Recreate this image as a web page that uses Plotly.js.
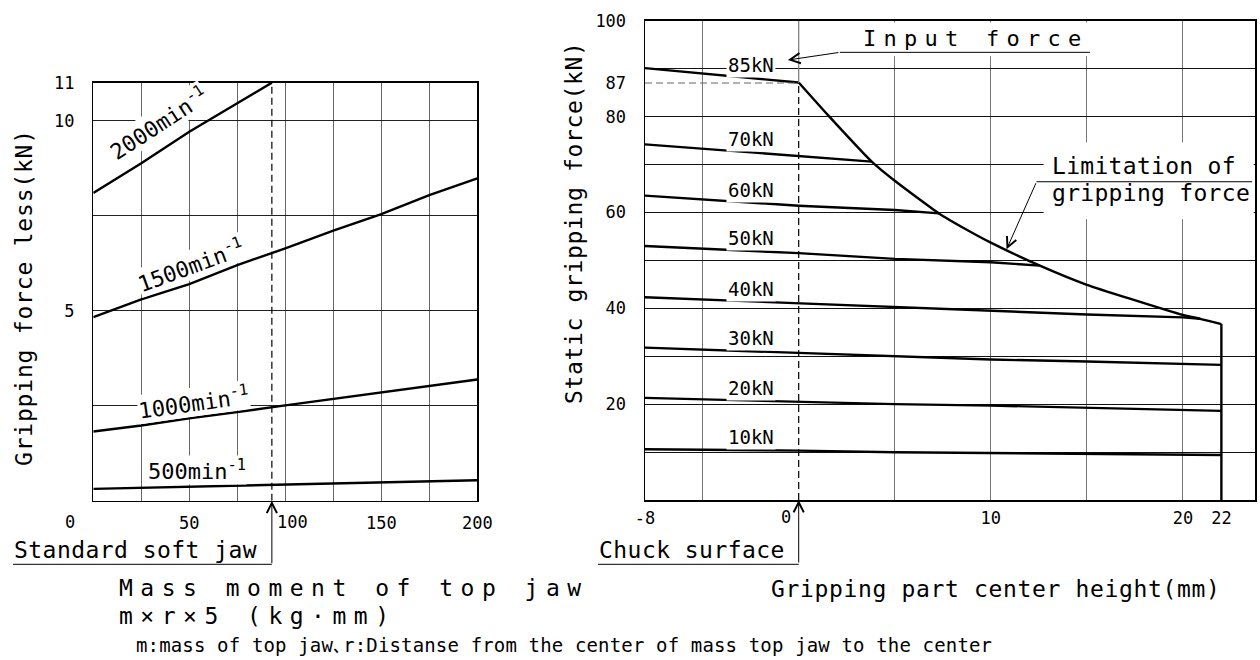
<!DOCTYPE html>
<html>
<head>
<meta charset="utf-8">
<script src="https://cdn.plot.ly/plotly-3.0.1.min.js"></script>
<style>html,body{margin:0;padding:0;background:#fff;}</style>
</head>
<body>
<div id="chart" style="width:1260px;height:660px;"></div>
<script>
// ---------------- DATA ----------------
// Left chart: gripping force loss (kN) vs mass moment of top jaw (kg·mm)
const massMoment     = [0, 25, 50, 75, 100, 125, 150, 175, 200];
const massMoment2000 = [0, 25, 50, 75, 93];
const loss2000 = [8.10, 8.88, 9.71, 10.46, 11.0];
const loss1500 = [4.83, 5.30, 5.70, 6.20, 6.64, 7.11, 7.54, 8.04, 8.48];
const loss1000 = [1.82, 1.98, 2.17, 2.33, 2.51, 2.68, 2.85, 3.02, 3.19];
const loss500  = [0.31, 0.34, 0.37, 0.40, 0.43, 0.46, 0.49, 0.52, 0.54];
const speedNames = ['2000', '1500', '1000', '500'];
const standardJawMoment = 93;

const leftXTicks = [50, 150, 200];
const leftXOffsetTicks = [0, 100];
const leftXGrid = [25, 50, 75, 100, 125, 150, 175];
const leftYTicks = [5, 10, 11];
const leftYGrid = [2.5, 5, 7.5, 10];

// Right chart: static gripping force (kN) vs gripping part center height (mm)
const h85 = [-8, 0];
const f85 = [90.1, 87.1];
const h70 = [-8, 0, 3.8];
const f70 = [74.2, 71.8, 70.6];
const h60 = [-8, 0, 5, 7.3];
const f60 = [63.5, 61.4, 60.5, 59.8];
const h50 = [-8, 0, 5, 10, 12.55];
const f50 = [53.0, 51.5, 50.3, 49.6, 48.9];
const h40 = [-8, 0, 5, 10, 15, 20, 20.9];
const f40 = [42.3, 41.0, 40.2, 39.4, 38.7, 38.1, 37.8];
const hFull = [-8, 0, 5, 10, 15, 20, 22];
const f30 = [31.8, 30.7, 30.0, 29.3, 28.9, 28.4, 28.2];
const f20 = [21.3, 20.5, 20.0, 19.7, 19.3, 18.9, 18.6];
const f10 = [10.6, 10.3, 9.95, 9.8, 9.6, 9.5, 9.4];
const inputForceNames = ['85kN', '70kN', '60kN', '50kN', '40kN', '30kN', '20kN', '10kN'];
const limitHeight = [0, 1.5, 3.8, 5, 7.3, 8.7, 10, 12.55, 15, 17.4, 20, 20.9, 22];
const limitForce  = [87.1, 80.4, 70.6, 66.6, 59.8, 56.5, 53.7, 48.9, 44.9, 41.8, 38.6, 37.8, 36.7];
const chuckSurface = 0;
const maxInputPoint = 87;

const rightXTicks = [-8, 10, 20, 22];
const rightXOffsetTicks = [0];
const rightXGrid = [-5, 5, 10, 15, 20];
const rightYTicks = [20, 40, 60, 80, 87, 100];
const rightYGrid = [10, 20, 30, 40, 50, 60, 70, 80, 90];

// ---------------- STYLE / LAYOUT ----------------
const FONT = 'DejaVu Sans Mono, Liberation Mono, monospace';
const W = 1260, H = 660;
const px = v => v / W;
const py = v => 1 - v / H;
const LINE = {color: '#000', width: 2.4};
const LEFT_X_DOM = [px(93.3), px(477.3)], LEFT_X_RANGE = [0, 200];
const RIGHT_X_DOM = [px(645), px(1255)], RIGHT_X_RANGE = [-8, 23.75];
const toPaper = (v, dom, rng) => dom[0] + (v - rng[0]) / (rng[1] - rng[0]) * (dom[1] - dom[0]);

function series(x, y, xa, ya, shape) {
  return {x: x, y: y, mode: 'lines', xaxis: xa, yaxis: ya, showlegend: false,
          hoverinfo: 'skip', line: Object.assign({}, LINE, shape ? {shape: shape, smoothing: 0.6} : {})};
}
const traces = [
  series(massMoment2000, loss2000, 'x', 'y'),
  series(massMoment, loss1500, 'x', 'y'),
  series(massMoment, loss1000, 'x', 'y'),
  series(massMoment, loss500, 'x', 'y'),
];
const rightSeries = [[h85, f85], [h70, f70], [h60, f60], [h50, f50], [h40, f40], [hFull, f30], [hFull, f20], [hFull, f10]];
rightSeries.forEach(s => traces.push(series(s[0], s[1], 'x2', 'y2')));
traces.push(series(limitHeight, limitForce, 'x2', 'y2', 'spline'));
const lastH = limitHeight[limitHeight.length - 1], lastF = limitForce[limitForce.length - 1];
traces.push(series([lastH, lastH], [lastF, 0], 'x2', 'y2'));

function spaced(t, ls) { return ls ? '<span style="letter-spacing:' + ls + 'px">' + t + '</span>' : t; }
function interp(xs, ys, x) {
  for (let i = 0; i < xs.length - 1; i++) {
    if (x >= xs[i] && x <= xs[i + 1]) return ys[i] + (ys[i + 1] - ys[i]) * (x - xs[i]) / (xs[i + 1] - xs[i]);
  }
  return ys[0];
}

const annotations = [];
// free texts (pixel positions)
const texts = [
  {t: 'Gripping force less(kN)', x: 24, y: 298, size: 23, ls: 0.8, angle: -90, xa: 'center'},
  {t: 'Static gripping force(kN)', x: 574, y: 223, size: 23, ls: 0.65, angle: -90, xa: 'center'},
  {t: 'Mass moment of top jaw', x: 118, y: 588, size: 23, ls: 7.5},
  {t: 'm×r×5 (kg·mm)', x: 118, y: 616, size: 23, ls: 7.5},
  {t: 'Gripping part center height(mm)', x: 770, y: 589, size: 23, ls: 0.65},
  {t: 'm:mass of top jaw､r:Distanse from the center of mass top jaw to the center', x: 135, y: 645, size: 19, ls: 0.15},
  {t: 'Standard soft jaw', x: 13, y: 550, size: 23, ls: 0.45},
  {t: 'Chuck surface', x: 598, y: 550, size: 23, ls: 0.45},
  {t: 'Input force', x: 862, y: 38, size: 22, ls: 7.25},
  {t: 'Limitation of', x: 1051, y: 166, size: 23, ls: 0.3},
  {t: 'gripping force', x: 1051, y: 193, size: 23, ls: 0.3},
];
texts.forEach(o => annotations.push({
  text: spaced(o.t, o.ls), xref: 'paper', yref: 'paper', x: px(o.x), y: py(o.y),
  xanchor: o.xa || 'left', yanchor: 'middle', textangle: o.angle || 0, showarrow: false,
  borderpad: 0, font: {family: FONT, size: o.size, color: '#000'}
}));

// speed labels on left chart
const speedPos = [{x: 33.75, y: 9.93, a: -33}, {x: 50.4, y: 6.2, a: -20}, {x: 52.1, y: 2.6, a: -8}, {x: 53.85, y: 0.81, a: 0}];
speedNames.forEach((s, i) => annotations.push({
  text: s + 'min<sup>-1</sup>', xref: 'x', yref: 'y', x: speedPos[i].x, y: speedPos[i].y,
  textangle: speedPos[i].a, showarrow: false, bgcolor: '#fff', borderpad: 0,
  font: {family: FONT, size: 22, color: '#000'}
}));

// input force labels on right chart
const labelHeight = -2.5;
rightSeries.forEach((s, i) => annotations.push({
  text: inputForceNames[i], xref: 'x2', yref: 'y2', x: labelHeight, y: interp(s[0], s[1], labelHeight),
  yshift: 13, showarrow: false, bgcolor: '#fff', borderpad: 1,
  font: {family: FONT, size: 19, color: '#000'}
}));

// offset tick labels
const tickFont = {family: FONT, size: 17, color: '#000'};
const leftOffsets = {0: -23, 100: 7};
leftXOffsetTicks.forEach(v => annotations.push({
  text: String(v), xref: 'x', yref: 'y domain', x: v, y: 0, yshift: -21.7, xshift: leftOffsets[v],
  yanchor: 'middle', showarrow: false, font: tickFont
}));
rightXOffsetTicks.forEach(v => annotations.push({
  text: String(v), xref: 'x2', yref: 'y2 domain', x: v, y: 0, yshift: -16.7, xshift: -13,
  yanchor: 'middle', showarrow: false, font: tickFont
}));

// leader arrows
const arrowBase = {text: '', showarrow: true, arrowhead: 5, arrowsize: 2, arrowwidth: 1, arrowcolor: '#000', font: {size: 1}};
annotations.push(Object.assign({}, arrowBase, {xref: 'x', yref: 'y', x: standardJawMoment, y: 0, ax: 0, ay: 64}));
annotations.push(Object.assign({}, arrowBase, {xref: 'x2', yref: 'y2', x: chuckSurface, y: 0, ax: 0, ay: 64}));
annotations.push(Object.assign({}, arrowBase, {xref: 'x2', yref: 'y2', x: -0.56, y: 91.8, axref: 'x2', ayref: 'y2', ax: 2.14, ay: 93.4}));
annotations.push(Object.assign({}, arrowBase, {xref: 'x2', yref: 'y2', x: 10.82, y: 52.3, axref: 'x2', ayref: 'y2', ax: 12.38, ay: 66.4}));

const shapes = [
  // clear gridlines behind "Input force" and "Limitation of gripping force"
  {type: 'rect', xref: 'x2', yref: 'y2', x0: 2.5, x1: 15.6, y0: 92.6, y1: 99.6, fillcolor: '#fff', line: {width: 0}},
  {type: 'rect', xref: 'x2', yref: 'y2', x0: 12.75, x1: 23.68, y0: 58.6, y1: 74.6, fillcolor: '#fff', line: {width: 0}},
  {type: 'line', xref: 'x2', yref: 'y2', x0: 2.14, x1: 15.16, y0: 93.4, y1: 93.4, line: {color: '#000', width: 1}},
  {type: 'line', xref: 'x2', yref: 'y2', x0: 12.38, x1: 23.6, y0: 66.4, y1: 66.4, line: {color: '#000', width: 1}},
  // underlines of the bottom call-outs
  {type: 'line', xref: 'paper', yref: 'paper', x0: px(13), x1: toPaper(standardJawMoment, LEFT_X_DOM, LEFT_X_RANGE),
   y0: py(564.3), y1: py(564.3), line: {color: '#000', width: 1}},
  {type: 'line', xref: 'paper', yref: 'paper', x0: px(598), x1: toPaper(chuckSurface, RIGHT_X_DOM, RIGHT_X_RANGE),
   y0: py(564.3), y1: py(564.3), line: {color: '#000', width: 1}},
  // reference lines
  {type: 'line', xref: 'x', yref: 'y', x0: standardJawMoment, x1: standardJawMoment, y0: 0, y1: 11, line: {color: '#000', width: 1.2, dash: '7px,4px'}},
  {type: 'line', xref: 'x2', yref: 'y2', x0: chuckSurface, x1: chuckSurface, y0: 0, y1: maxInputPoint, line: {color: '#000', width: 1.2, dash: '7px,4px'}},
  {type: 'line', xref: 'x2', yref: 'y2', x0: chuckSurface, x1: chuckSurface, y0: maxInputPoint, y1: 100, line: {color: '#777', width: 1.2}},
  {type: 'line', xref: 'x2', yref: 'y2', x0: -8, x1: chuckSurface, y0: maxInputPoint, y1: maxInputPoint, line: {color: '#666', width: 1.2, dash: '7px,4px'}},
];

function axis(domain, range, anchor, tickvals, grid, gridcolor, standoff) {
  return {
    domain: domain, range: range, anchor: anchor, fixedrange: true,
    showline: true, mirror: true, linecolor: '#000', linewidth: 1.5,
    zeroline: false, showgrid: false, ticks: '',
    tickmode: 'array', tickvals: tickvals, ticktext: tickvals.map(String),
    tickfont: tickFont, ticklabelstandoff: standoff,
    minor: {tickmode: 'array', tickvals: grid, showgrid: true, gridcolor: gridcolor, gridwidth: 1, ticks: ''}
  };
}

const layout = {
  width: W, height: H,
  margin: {l: 0, r: 0, t: 0, b: 0, pad: 0},
  paper_bgcolor: '#fff', plot_bgcolor: '#fff',
  showlegend: false,
  xaxis:  axis(LEFT_X_DOM, LEFT_X_RANGE, 'y', leftXTicks, leftXGrid, '#666', 6),
  yaxis:  axis([py(500.7), py(82.7)], [0, 11], 'x', leftYTicks, leftYGrid, '#222', 14),
  xaxis2: axis(RIGHT_X_DOM, RIGHT_X_RANGE, 'y2', rightXTicks, rightXGrid, '#777', 2),
  yaxis2: axis([py(500), py(20.7)], [0, 100], 'x2', rightYTicks, rightYGrid, '#111', 14),
  annotations: annotations,
  shapes: shapes
};

Plotly.newPlot('chart', traces, layout, {displayModeBar: false, staticPlot: true});
</script>
</body>
</html>
